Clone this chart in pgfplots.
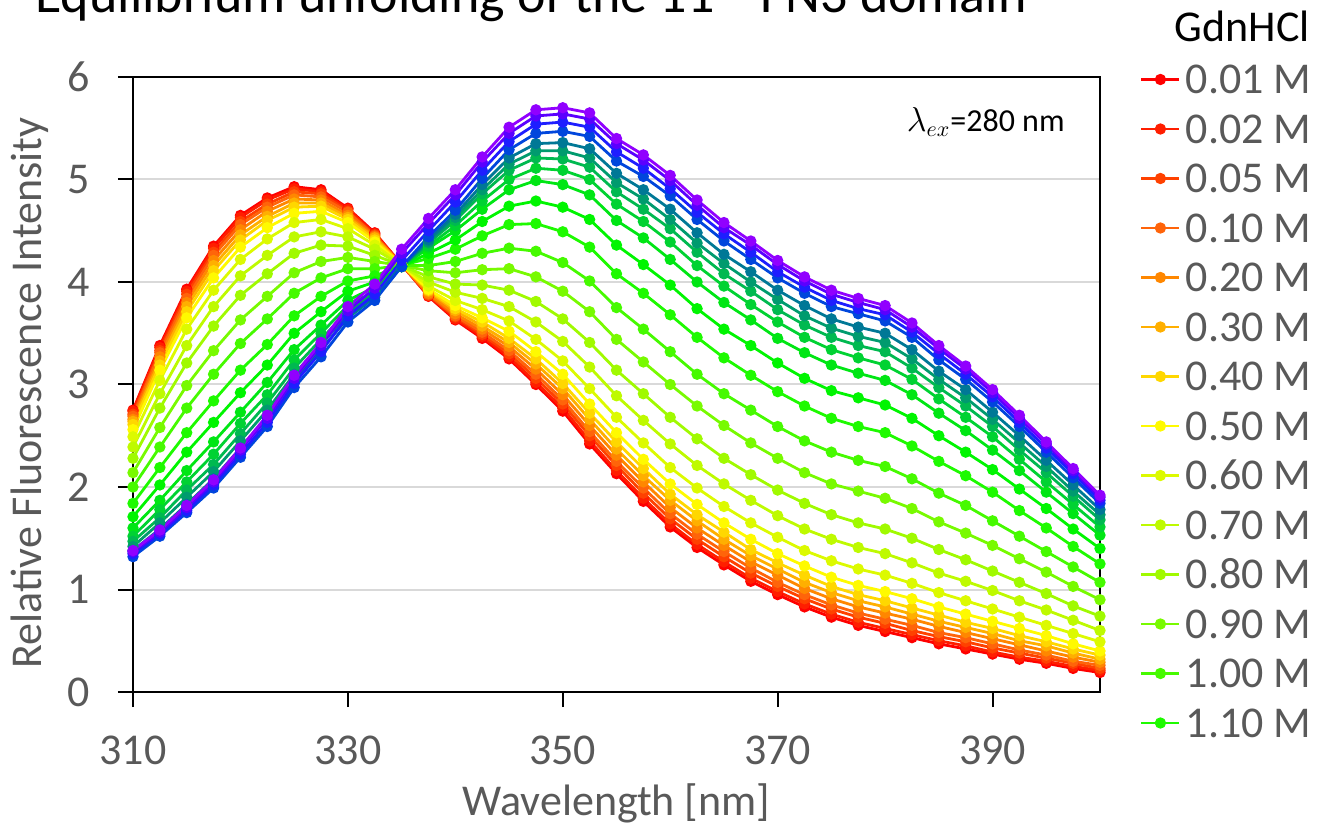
\documentclass[border=0pt]{standalone}
\usepackage{pgfplots}
\pgfplotsset{compat=1.18}
\usepackage{pgfplotstable}
\usepackage{fontspec}
\setmainfont{Carlito}
\definecolor{txtgray}{RGB}{89,89,89}
\definecolor{k1}{RGB}{255,0,0}
\definecolor{k2}{RGB}{255,30,0}
\definecolor{k3}{RGB}{255,65,0}
\definecolor{k4}{RGB}{255,100,10}
\definecolor{k5}{RGB}{255,135,0}
\definecolor{k6}{RGB}{255,175,0}
\definecolor{k7}{RGB}{255,215,0}
\definecolor{k8}{RGB}{255,250,0}
\definecolor{k9}{RGB}{220,250,0}
\definecolor{k10}{RGB}{190,250,0}
\definecolor{k11}{RGB}{160,250,0}
\definecolor{k12}{RGB}{120,250,0}
\definecolor{k13}{RGB}{70,250,0}
\definecolor{k14}{RGB}{30,250,0}
\definecolor{k15}{RGB}{0,245,0}
\definecolor{k16}{RGB}{0,230,20}
\definecolor{k17}{RGB}{0,210,50}
\definecolor{k18}{RGB}{0,185,80}
\definecolor{k19}{RGB}{0,155,110}
\definecolor{k20}{RGB}{0,120,150}
\definecolor{k21}{RGB}{0,70,220}
\definecolor{k22}{RGB}{30,30,255}
\definecolor{k23}{RGB}{90,0,255}
\definecolor{k24}{RGB}{145,0,255}

\pgfplotstableread{
x c1 c2 c3 c4 c5 c6 c7 c8 c9 c10 c11 c12 c13 c14 c15 c16 c17 c18 c19 c20 c21 c22 c23 c24
310 2.75 2.74 2.71 2.69 2.66 2.64 2.61 2.56 2.49 2.39 2.28 2.14 2.00 1.84 1.71 1.60 1.52 1.47 1.42 1.38 1.32 1.35 1.37 1.38
312.5 3.38 3.36 3.33 3.31 3.27 3.23 3.19 3.14 3.04 2.91 2.77 2.58 2.39 2.19 2.02 1.87 1.78 1.70 1.65 1.59 1.52 1.54 1.56 1.58
315 3.93 3.91 3.88 3.84 3.80 3.76 3.71 3.65 3.54 3.38 3.21 2.99 2.77 2.53 2.34 2.16 2.05 1.97 1.90 1.83 1.75 1.77 1.80 1.82
317.5 4.35 4.33 4.29 4.26 4.21 4.16 4.11 4.04 3.92 3.76 3.57 3.33 3.10 2.84 2.63 2.44 2.32 2.22 2.15 2.08 1.99 2.02 2.05 2.07
320 4.65 4.63 4.59 4.56 4.51 4.46 4.41 4.34 4.22 4.06 3.87 3.63 3.40 3.14 2.92 2.73 2.62 2.52 2.45 2.38 2.29 2.32 2.36 2.38
322.5 4.82 4.80 4.76 4.73 4.69 4.64 4.60 4.53 4.42 4.26 4.08 3.86 3.64 3.39 3.19 3.02 2.90 2.82 2.75 2.68 2.59 2.63 2.67 2.70
325 4.93 4.91 4.88 4.85 4.81 4.77 4.73 4.67 4.58 4.44 4.28 4.09 3.89 3.67 3.50 3.34 3.24 3.16 3.10 3.05 2.97 3.01 3.06 3.09
327.5 4.90 4.88 4.86 4.83 4.80 4.77 4.74 4.69 4.61 4.49 4.36 4.20 4.04 3.86 3.71 3.58 3.50 3.44 3.39 3.34 3.27 3.32 3.38 3.41
330 4.72 4.71 4.69 4.68 4.65 4.63 4.61 4.58 4.52 4.44 4.35 4.24 4.13 4.01 3.91 3.82 3.77 3.72 3.69 3.65 3.61 3.67 3.72 3.76
332.5 4.48 4.47 4.46 4.45 4.44 4.43 4.41 4.39 4.36 4.32 4.26 4.20 4.13 4.06 4.00 3.95 3.91 3.89 3.87 3.85 3.82 3.88 3.94 3.98
335 4.17 4.17 4.17 4.17 4.17 4.17 4.17 4.17 4.17 4.16 4.16 4.16 4.16 4.16 4.15 4.15 4.15 4.15 4.15 4.15 4.15 4.21 4.28 4.32
337.5 3.86 3.87 3.87 3.88 3.89 3.91 3.92 3.93 3.96 4.00 4.05 4.11 4.16 4.23 4.28 4.33 4.35 4.38 4.39 4.41 4.44 4.50 4.57 4.62
340 3.63 3.64 3.66 3.67 3.69 3.72 3.74 3.77 3.82 3.90 3.98 4.09 4.20 4.32 4.41 4.50 4.55 4.60 4.63 4.66 4.70 4.78 4.85 4.90
342.5 3.45 3.47 3.49 3.51 3.54 3.57 3.61 3.65 3.73 3.84 3.97 4.12 4.28 4.45 4.59 4.71 4.79 4.86 4.90 4.95 5.01 5.09 5.17 5.22
345 3.25 3.27 3.30 3.33 3.37 3.41 3.45 3.52 3.62 3.76 3.92 4.13 4.33 4.56 4.74 4.90 5.00 5.09 5.15 5.21 5.29 5.37 5.45 5.51
347.5 3.00 3.02 3.06 3.10 3.15 3.20 3.25 3.32 3.44 3.61 3.81 4.05 4.30 4.57 4.79 4.99 5.11 5.21 5.28 5.35 5.45 5.54 5.62 5.68
350 2.74 2.77 2.81 2.85 2.90 2.96 3.01 3.10 3.23 3.42 3.64 3.91 4.19 4.49 4.73 4.95 5.09 5.20 5.28 5.36 5.47 5.56 5.64 5.70
352.5 2.42 2.45 2.50 2.54 2.60 2.66 2.72 2.81 2.96 3.17 3.41 3.71 4.01 4.34 4.61 4.85 5.00 5.12 5.21 5.30 5.42 5.51 5.59 5.65
355 2.13 2.16 2.21 2.25 2.31 2.37 2.44 2.53 2.68 2.89 3.14 3.44 3.75 4.08 4.36 4.60 4.76 4.88 4.97 5.06 5.18 5.27 5.35 5.40
357.5 1.86 1.89 1.94 1.99 2.05 2.11 2.18 2.27 2.43 2.65 2.91 3.22 3.54 3.89 4.17 4.43 4.59 4.71 4.81 4.90 5.03 5.11 5.19 5.24
360 1.61 1.64 1.69 1.74 1.80 1.87 1.93 2.03 2.19 2.42 2.68 3.00 3.32 3.68 3.97 4.22 4.39 4.52 4.61 4.71 4.84 4.91 4.99 5.04
362.5 1.41 1.44 1.49 1.54 1.60 1.67 1.73 1.83 1.99 2.21 2.47 2.79 3.10 3.46 3.74 4.00 4.16 4.29 4.38 4.48 4.61 4.68 4.75 4.80
365 1.24 1.27 1.32 1.37 1.43 1.49 1.56 1.65 1.81 2.03 2.28 2.60 2.91 3.26 3.54 3.80 3.96 4.08 4.18 4.27 4.40 4.47 4.53 4.58
367.5 1.08 1.11 1.16 1.21 1.27 1.33 1.39 1.49 1.65 1.87 2.12 2.43 2.75 3.09 3.38 3.63 3.78 3.91 4.00 4.10 4.22 4.29 4.36 4.40
370 0.95 0.98 1.03 1.07 1.14 1.20 1.26 1.35 1.51 1.72 1.97 2.28 2.59 2.93 3.21 3.45 3.61 3.73 3.83 3.92 4.04 4.10 4.17 4.21
372.5 0.83 0.86 0.91 0.95 1.01 1.07 1.14 1.23 1.38 1.59 1.84 2.14 2.45 2.79 3.06 3.31 3.46 3.58 3.67 3.77 3.89 3.95 4.01 4.05
375 0.73 0.76 0.81 0.85 0.91 0.97 1.03 1.12 1.28 1.49 1.73 2.03 2.34 2.67 2.94 3.19 3.34 3.46 3.55 3.64 3.76 3.82 3.88 3.92
377.5 0.65 0.68 0.73 0.77 0.83 0.89 0.95 1.04 1.20 1.41 1.65 1.96 2.26 2.59 2.87 3.11 3.26 3.38 3.47 3.56 3.69 3.74 3.80 3.84
380 0.59 0.62 0.67 0.71 0.77 0.83 0.89 0.98 1.14 1.35 1.59 1.89 2.20 2.53 2.80 3.04 3.19 3.32 3.41 3.50 3.62 3.68 3.73 3.77
382.5 0.53 0.56 0.60 0.65 0.71 0.76 0.82 0.91 1.06 1.26 1.50 1.79 2.08 2.40 2.67 2.90 3.05 3.16 3.25 3.34 3.46 3.51 3.56 3.60
385 0.47 0.50 0.54 0.58 0.64 0.69 0.75 0.83 0.97 1.16 1.39 1.66 1.94 2.25 2.50 2.72 2.86 2.97 3.05 3.13 3.24 3.30 3.35 3.38
387.5 0.42 0.45 0.49 0.53 0.58 0.63 0.68 0.76 0.89 1.08 1.29 1.55 1.82 2.11 2.34 2.55 2.68 2.79 2.87 2.95 3.05 3.10 3.15 3.18
390 0.37 0.39 0.43 0.47 0.52 0.57 0.62 0.69 0.81 0.99 1.18 1.43 1.67 1.95 2.17 2.36 2.49 2.59 2.66 2.73 2.83 2.88 2.92 2.95
392.5 0.32 0.34 0.38 0.41 0.46 0.50 0.55 0.62 0.73 0.89 1.07 1.30 1.52 1.77 1.98 2.16 2.27 2.36 2.43 2.50 2.59 2.63 2.67 2.70
395 0.28 0.30 0.33 0.36 0.40 0.45 0.49 0.55 0.65 0.80 0.96 1.17 1.37 1.60 1.79 1.95 2.05 2.14 2.20 2.26 2.34 2.38 2.42 2.44
397.5 0.23 0.25 0.28 0.30 0.34 0.38 0.42 0.47 0.57 0.70 0.84 1.03 1.22 1.42 1.59 1.74 1.83 1.91 1.96 2.02 2.09 2.13 2.16 2.18
400 0.19 0.21 0.23 0.26 0.29 0.32 0.36 0.40 0.49 0.60 0.74 0.90 1.07 1.25 1.40 1.53 1.61 1.68 1.73 1.78 1.84 1.87 1.90 1.92
}\spectra

\newcommand{\spec}[2]{\addplot[color=#1, line width=1.4pt, mark=*, mark size=2.1pt] table[x=x,y=#2]{\spectra};}
\newcommand{\specf}[2]{\addplot[forget plot, color=#1, line width=1.4pt, mark=*, mark size=2.1pt] table[x=x,y=#2]{\spectra};}
\newcommand{\LE}[1]{\rule[-2pt]{0pt}{18pt}#1}

\begin{document}
\begin{tikzpicture}
\begin{axis}[
  at={(0pt,0pt)}, anchor=south west,
  scale only axis, width=483.5pt, height=307.5pt,
  xmin=310, xmax=400, ymin=0, ymax=6,
  xtick={310,330,350,370,390}, ytick={0,1,2,3,4,5,6},
  tick pos=left,
  axis line style={black, line width=1pt},
  tick style={black, line width=1pt},
  tick align=outside, major tick length=7.5pt,
  ymajorgrids, grid style={black!15, line width=1pt},
  clip=false,
  /pgf/number format/assume math mode=true,
  tick label style={font=\fontsize{22}{26}\selectfont, text=txtgray},
  xticklabel style={anchor=base, inner sep=0pt, yshift=-28.5pt},
  yticklabel style={anchor=east, inner sep=0pt, xshift=-14pt},
  xlabel={Wavelength [nm]},
  ylabel={Relative Fluorescence Intensity},
  label style={font=\fontsize{22}{26}\selectfont, text=txtgray},
  xlabel style={at={(axis description cs:0.5,-0.2016)}, anchor=base, inner sep=0pt},
  ylabel style={at={(axis description cs:-0.1065,0.486)}, anchor=center, inner sep=0pt},
  legend style={at={(axis description cs:1.0414,1.0244)}, anchor=north west,
    draw=none, fill=none, inner sep=0pt, outer sep=0pt,
    row sep=7.25pt, column sep=2.5pt,
    font=\fontsize{22}{26}\selectfont, text=txtgray,
    nodes={inner sep=0pt}},
  legend cell align=left,
  legend image code/.code={\draw[#1, mark repeat=2, mark phase=2] plot coordinates {(0pt,0pt) (9.5pt,0pt) (19pt,0pt)};},
]
\spec{k1}{c1}\addlegendentry{\LE{0.01 M}}
\spec{k2}{c2}\addlegendentry{\LE{0.02 M}}
\spec{k3}{c3}\addlegendentry{\LE{0.05 M}}
\spec{k4}{c4}\addlegendentry{\LE{0.10 M}}
\spec{k5}{c5}\addlegendentry{\LE{0.20 M}}
\spec{k6}{c6}\addlegendentry{\LE{0.30 M}}
\spec{k7}{c7}\addlegendentry{\LE{0.40 M}}
\spec{k8}{c8}\addlegendentry{\LE{0.50 M}}
\spec{k9}{c9}\addlegendentry{\LE{0.60 M}}
\spec{k10}{c10}\addlegendentry{\LE{0.70 M}}
\spec{k11}{c11}\addlegendentry{\LE{0.80 M}}
\spec{k12}{c12}\addlegendentry{\LE{0.90 M}}
\spec{k13}{c13}\addlegendentry{\LE{1.00 M}}
\spec{k14}{c14}\addlegendentry{\LE{1.10 M}}
\specf{k15}{c15}
\specf{k16}{c16}
\specf{k17}{c17}
\specf{k18}{c18}
\specf{k19}{c19}
\specf{k20}{c20}
\specf{k21}{c21}
\specf{k22}{c22}
\specf{k23}{c23}
\specf{k24}{c24}
\node[anchor=east, font=\fontsize{16}{19}\selectfont, inner sep=0pt] at (rel axis cs:0.9638,0.9268) {$\lambda_{ex}$=280 nm};
\end{axis}
\node[anchor=base west, font=\fontsize{27}{32}\selectfont, inner sep=0pt] at (-49pt,339.5pt) {Equilibrium unfolding of the 11\textsuperscript{th} FN3 domain};
\node[anchor=base east, font=\fontsize{22}{26}\selectfont, inner sep=0pt] at (588.5pt,325pt) {GdnHCl};
\pgfresetboundingbox
\useasboundingbox (-66.5pt,-66pt) rectangle (592pt,346pt);
\end{tikzpicture}
\end{document}
